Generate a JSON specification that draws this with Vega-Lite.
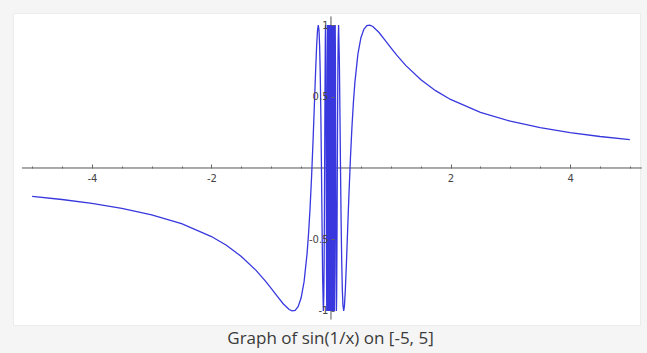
{
  "$schema": "https://vega.github.io/schema/vega-lite/v6.json",
  "width": 627,
  "height": 312,
  "autosize": {"type": "none"},
  "padding": {"left": 13, "top": 13, "right": 7, "bottom": 28},
  "background": "#f5f5f5",
  "view": {"fill": "#ffffff", "stroke": "#ececec"},
  "title": {
    "text": "Graph of sin(1/x) on [-5, 5]",
    "orient": "bottom",
    "anchor": "middle",
    "frame": "group",
    "offset": 6,
    "dx": 4,
    "font": "Open Sans",
    "fontSize": 17,
    "fontWeight": "normal",
    "color": "#3a3a3a"
  },
  "datasets": {
    "curve": [
      {"x": -5, "y": -0.1987}, {"x": -4.5, "y": -0.2204}, {"x": -4, "y": -0.2474}, {"x": -3.5, "y": -0.2819},
      {"x": -3, "y": -0.3272}, {"x": -2.5, "y": -0.3894}, {"x": -2, "y": -0.4794}, {"x": -1.75, "y": -0.5407},
      {"x": -1.5, "y": -0.6184}, {"x": -1.25, "y": -0.7174}, {"x": -1.1, "y": -0.7891}, {"x": -1.0, "y": -0.8415},
      {"x": -0.9, "y": -0.896}, {"x": -0.8, "y": -0.949}, {"x": -0.7, "y": -0.9899}, {"x": -0.65, "y": -0.9995},
      {"x": -0.6, "y": -0.9954}, {"x": -0.55, "y": -0.9696}, {"x": -0.5, "y": -0.9093}, {"x": -0.45, "y": -0.7951},
      {"x": -0.4, "y": -0.5985}, {"x": -0.375, "y": -0.4573}, {"x": -0.35, "y": -0.2808}, {"x": -0.325, "y": -0.0646},
      {"x": -0.3, "y": 0.1906}, {"x": -0.28, "y": 0.4168}, {"x": -0.26, "y": 0.6476}, {"x": -0.24, "y": 0.8547},
      {"x": -0.225, "y": 0.9641}, {"x": -0.2122, "y": 1}, {"x": -0.2, "y": 0.9589}, {"x": -0.19, "y": 0.8523},
      {"x": -0.18, "y": 0.6646}, {"x": -0.17, "y": 0.3902}, {"x": -0.16, "y": 0.0332}, {"x": -0.15, "y": -0.3745},
      {"x": -0.14, "y": -0.7578}, {"x": -0.1273, "y": -1}, {"x": -0.12, "y": -0.8872}, {"x": -0.115, "y": -0.6655},
      {"x": -0.11, "y": -0.327}, {"x": -0.105, "y": 0.0993}, {"x": -0.1, "y": 0.544}, {"x": -0.095, "y": 0.892},
      {"x": -0.0909, "y": 1}, {"x": -0.085, "y": 0.718}, {"x": -0.08, "y": 0.0663}, {"x": -0.075, "y": -0.694},
      {"x": -0.0707, "y": -1}, {"x": -0.066, "y": -0.528}, {"x": -0.0625, "y": 0.288}, {"x": -0.0579, "y": 1},
      {"x": -0.053, "y": -0.018}, {"x": -0.049, "y": -1}, {"x": -0.0455, "y": -0.014}, {"x": -0.0424, "y": 1},
      {"x": -0.0395, "y": -0.18}, {"x": -0.0374, "y": -1}, {"x": -0.0335, "y": 1}, {"x": -0.0303, "y": -1},
      {"x": -0.0277, "y": 1}, {"x": -0.0255, "y": -1}, {"x": -0.0236, "y": 1}, {"x": -0.022, "y": -1},
      {"x": -0.0205, "y": 1}, {"x": -0.0193, "y": -1}, {"x": -0.0182, "y": 1}, {"x": -0.0172, "y": -1},
      {"x": -0.0163, "y": 1}, {"x": -0.0155, "y": -1}, {"x": -0.0148, "y": 1}, {"x": -0.0141, "y": -1},
      {"x": -0.0135, "y": 1}, {"x": -0.013, "y": -1}, {"x": -0.0125, "y": 1}, {"x": -0.012, "y": -1},
      {"x": -0.0116, "y": 1}, {"x": -0.0112, "y": -1}, {"x": -0.0108, "y": 1}, {"x": -0.0104, "y": -1},
      {"x": -0.0101, "y": 1}, {"x": -0.009, "y": -1}, {"x": -0.008, "y": 1}, {"x": -0.007, "y": -1},
      {"x": -0.006, "y": 1}, {"x": -0.005, "y": -1}, {"x": -0.004, "y": 1}, {"x": -0.003, "y": -1},
      {"x": -0.002, "y": 1}, {"x": -0.001, "y": -1},
      {"x": 0.001, "y": 1}, {"x": 0.002, "y": -1}, {"x": 0.003, "y": 1}, {"x": 0.004, "y": -1},
      {"x": 0.005, "y": 1}, {"x": 0.006, "y": -1}, {"x": 0.007, "y": 1}, {"x": 0.008, "y": -1},
      {"x": 0.009, "y": 1}, {"x": 0.0101, "y": -1}, {"x": 0.0104, "y": 1}, {"x": 0.0108, "y": -1},
      {"x": 0.0112, "y": 1}, {"x": 0.0116, "y": -1}, {"x": 0.012, "y": 1}, {"x": 0.0125, "y": -1},
      {"x": 0.013, "y": 1}, {"x": 0.0135, "y": -1}, {"x": 0.0141, "y": 1}, {"x": 0.0148, "y": -1},
      {"x": 0.0155, "y": 1}, {"x": 0.0163, "y": -1}, {"x": 0.0172, "y": 1}, {"x": 0.0182, "y": -1},
      {"x": 0.0193, "y": 1}, {"x": 0.0205, "y": -1}, {"x": 0.022, "y": 1}, {"x": 0.0236, "y": -1},
      {"x": 0.0255, "y": 1}, {"x": 0.0277, "y": -1}, {"x": 0.0303, "y": 1}, {"x": 0.0335, "y": -1},
      {"x": 0.0374, "y": 1}, {"x": 0.0395, "y": 0.18}, {"x": 0.0424, "y": -1}, {"x": 0.0455, "y": 0.014},
      {"x": 0.049, "y": 1}, {"x": 0.053, "y": 0.018}, {"x": 0.0579, "y": -1}, {"x": 0.0625, "y": -0.288},
      {"x": 0.066, "y": 0.528}, {"x": 0.0707, "y": 1}, {"x": 0.075, "y": 0.694}, {"x": 0.08, "y": -0.0663},
      {"x": 0.085, "y": -0.718}, {"x": 0.0909, "y": -1}, {"x": 0.095, "y": -0.892}, {"x": 0.1, "y": -0.544},
      {"x": 0.105, "y": -0.0993}, {"x": 0.11, "y": 0.327}, {"x": 0.115, "y": 0.6655}, {"x": 0.12, "y": 0.8872},
      {"x": 0.1273, "y": 1}, {"x": 0.14, "y": 0.7578}, {"x": 0.15, "y": 0.3745}, {"x": 0.16, "y": -0.0332},
      {"x": 0.17, "y": -0.3902}, {"x": 0.18, "y": -0.6646}, {"x": 0.19, "y": -0.8523}, {"x": 0.2, "y": -0.9589},
      {"x": 0.2122, "y": -1}, {"x": 0.225, "y": -0.9641}, {"x": 0.24, "y": -0.8547}, {"x": 0.26, "y": -0.6476},
      {"x": 0.28, "y": -0.4168}, {"x": 0.3, "y": -0.1906}, {"x": 0.325, "y": 0.0646}, {"x": 0.35, "y": 0.2808},
      {"x": 0.375, "y": 0.4573}, {"x": 0.4, "y": 0.5985}, {"x": 0.45, "y": 0.7951}, {"x": 0.5, "y": 0.9093},
      {"x": 0.55, "y": 0.9696}, {"x": 0.6, "y": 0.9954}, {"x": 0.65, "y": 0.9995}, {"x": 0.7, "y": 0.9899},
      {"x": 0.8, "y": 0.949}, {"x": 0.9, "y": 0.896}, {"x": 1.0, "y": 0.8415}, {"x": 1.1, "y": 0.7891},
      {"x": 1.25, "y": 0.7174}, {"x": 1.5, "y": 0.6184}, {"x": 1.75, "y": 0.5407}, {"x": 2, "y": 0.4794},
      {"x": 2.5, "y": 0.3894}, {"x": 3, "y": 0.3272}, {"x": 3.5, "y": 0.2819}, {"x": 4, "y": 0.2474},
      {"x": 4.5, "y": 0.2204}, {"x": 5, "y": 0.1987}
    ],
    "axislines": [
      {"x": -5.17, "x2": 5.2, "y": 0, "y2": 0},
      {"x": 0, "x2": 0, "y": -1.06, "y2": 1.06}
    ]
  },
  "encoding": {
    "x": {
      "field": "x", "type": "quantitative",
      "scale": {"domain": [-5.32, 5.17], "nice": false, "zero": false},
      "axis": {
        "orient": "bottom", "offset": -157, "domain": false, "grid": false, "title": null, "zindex": 1,
        "values": [-5, -4.5, -4, -3.5, -3, -2.5, -2, -1.5, -1, -0.5, 0.5, 1, 1.5, 2, 2.5, 3, 3.5, 4, 4.5, 5],
        "labelExpr": "(datum.value % 2 == 0) ? toString(datum.value) : ''",
        "tickSize": {"condition": {"test": "datum.value % 2 == 0", "value": -4}, "value": -2},
        "tickColor": "#666666", "tickWidth": 1,
        "labelPadding": 9, "labelFont": "DejaVu Sans", "labelFontSize": 10, "labelColor": "#444444",
        "labelOverlap": false, "labelFlush": false
      }
    },
    "y": {
      "field": "y", "type": "quantitative",
      "scale": {"domain": [-1.098, 1.084], "nice": false, "zero": false},
      "axis": {
        "orient": "left", "offset": -318, "domain": false, "grid": false, "title": null, "zindex": 1,
        "values": [-1, -0.5, 0.5, 1],
        "labelExpr": "toString(datum.value)",
        "tickSize": -3, "tickColor": "#666666",
        "labelPadding": 6, "labelFont": "DejaVu Sans", "labelFontSize": 10, "labelColor": "#444444",
        "labelOverlap": false, "labelFlush": false
      }
    }
  },
  "layer": [
    {
      "data": {"name": "axislines"},
      "mark": {"type": "rule", "color": "#555555", "strokeWidth": 1},
      "encoding": {
        "x2": {"field": "x2"},
        "y2": {"field": "y2"}
      }
    },
    {
      "data": {"name": "curve"},
      "mark": {"type": "line", "color": "#3838de", "strokeWidth": 1.3, "clip": true},
      "encoding": {}
    }
  ]
}
